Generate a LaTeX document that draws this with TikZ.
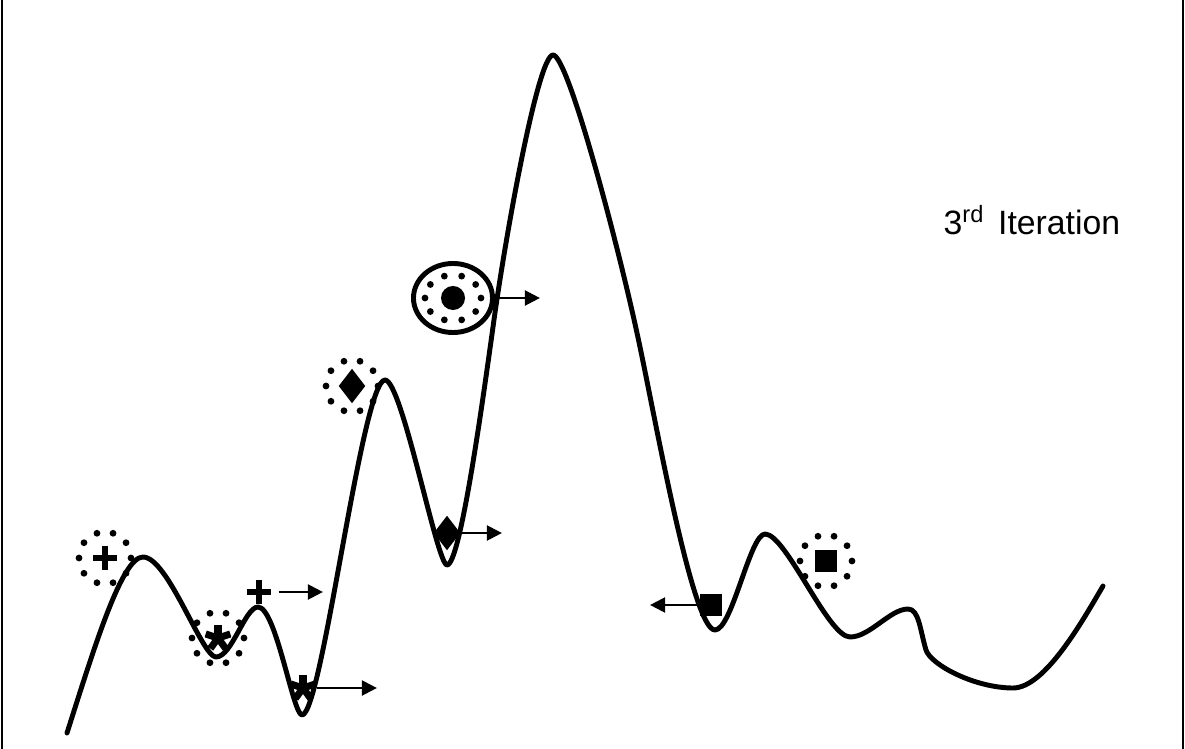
\documentclass[tikz,border=0pt]{standalone}
\usepackage{fontspec}
\setmainfont{Liberation Sans}
\usetikzlibrary{arrows.meta,shapes.geometric}

\begin{document}
\begin{tikzpicture}[x=0.01cm, y=-0.01cm,
  curve/.style={line width=1.4pt, line join=round, line cap=round},
  arr/.style={line width=0.85pt, -{Triangle[length=4.3pt,width=4.2pt]}},
  plusmark/.style={inner sep=0pt, minimum size=0.24cm, path picture={
      \draw[line width=1.8pt] (path picture bounding box.north) -- (path picture bounding box.south)
        (path picture bounding box.west) -- (path picture bounding box.east);}},
  starmark/.style={inner sep=0pt, minimum size=0.26cm, path picture={
      \foreach \a in {90,18,162,234,306}
        \draw[line width=2pt] (path picture bounding box.center) -- ++(\a:0.13cm);}},
  diamark/.style={diamond, fill, inner sep=0pt, minimum width=0.27cm, minimum height=0.35cm},
  sqmark/.style={fill, inner sep=0pt, minimum size=0.22cm},
  dotmark/.style={circle, fill, inner sep=0pt, minimum size=0.24cm}]
  \useasboundingbox (0,0) rectangle (1185,749);
  \draw[line width=0.8pt] (2,0) -- (2,749);
  \draw[line width=0.6pt] (1183,0) -- (1183,749);

  % landscape
  \draw[curve] (67,733) .. controls (95,645) and (122,557) .. (143,557)
    .. controls (168,557) and (202,657) .. (216,657)
    .. controls (232,657) and (245,607) .. (258,607)
    .. controls (276,607) and (293,715) .. (302,715)
    .. controls (322,715) and (362,380) .. (385,380)
    .. controls (402,380) and (437,565) .. (447,565)
    .. controls (460,565) and (482,406) .. (493,327)
    .. controls (505,238) and (538,55) .. (553,55)
    .. controls (568,55) and (618,245) .. (637,333)
    .. controls (654,410) and (692,630) .. (715,630)
    .. controls (732,630) and (750,534) .. (765,534)
    .. controls (786,534) and (828,637) .. (850,637)
    .. controls (870,637) and (890,609) .. (908,609)
    .. controls (919,609) and (920,630) .. (926,650)
    .. controls (931,665) and (975,688) .. (1013,688)
    .. controls (1045,688) and (1083,620) .. (1103,586);

  % markers
  \node[plusmark] (pa) at (105,558) {};
  \node[starmark] (sa) at (218,638) {};
  \node[plusmark] (pb) at (259,592) {};
  \node[starmark] (sb) at (303,688) {};
  \node[diamark] (da) at (352,386) {};
  \node[diamark] (db) at (447,533) {};
  \node[ellipse, draw, line width=1.4pt, inner sep=0pt, minimum width=0.79cm, minimum height=0.69cm] (ring) at (453,298) {};
  \node[dotmark] (dot) at (453,298) {};
  \node[sqmark] (qb) at (711,605) {};
  \node[sqmark] (qa) at (826,561) {};

  % dotted rings
  \foreach \n in {pa,sa,da,qa}
    \foreach \a in {0,36,...,324}
      \fill (\n) ++(\a:26) circle (0.034cm);
  \foreach \a in {0,36,...,324}
    \fill (dot) ++({28*cos(\a)},{23*sin(\a)}) circle (0.034cm);

  % moves
  \coordinate (pbe) at (323,592);
  \coordinate (sbe) at (377,688);
  \coordinate (ringe) at (540,298);
  \coordinate (dbe) at (502,533);
  \coordinate (qbe) at (650,605);
  \draw[arr, shorten <=0.07cm] (pb.east) -- (pbe);
  \draw[arr] (sb.east) -- (sbe);
  \draw[arr] (ring.east) -- (ringe);
  \draw[arr] (db.east) -- (dbe);
  \draw[arr] (qb.west) -- (qbe);

  \node[anchor=base west, inner sep=0pt, font=\fontsize{9.6pt}{11pt}\selectfont] (title) at (943,235) {3\textsuperscript{rd}\hspace{1pt} Iteration};
\end{tikzpicture}
\end{document}
